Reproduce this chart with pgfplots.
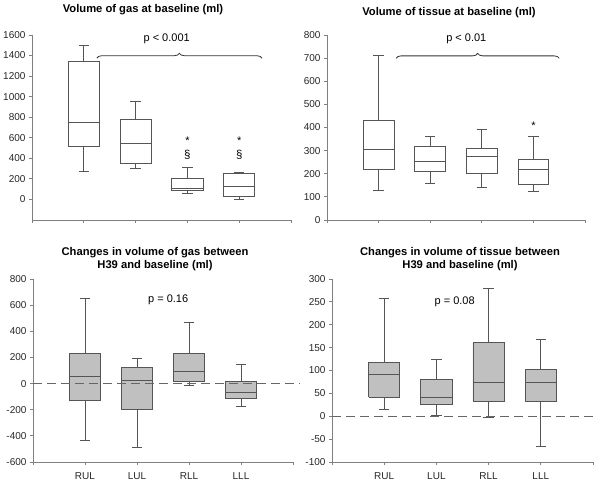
\documentclass[border=0pt]{standalone}
\usepackage{pgfplots}
\pgfplotsset{compat=1.18}
\usetikzlibrary{decorations.pathreplacing}
\usepackage{fontspec}
\setmainfont{Liberation Sans}
\definecolor{axgray}{HTML}{808080}
\definecolor{boxline}{HTML}{555555}
\definecolor{boxfill}{HTML}{C0C0C0}
\tikzset{ptext/.style={font=\fontsize{11}{13}\selectfont}}
\pgfplotsset{
  myax/.style={
    scale only axis, anchor=south west,
    axis x line=bottom, axis y line=left,
    axis line style={draw=axgray, line width=0.8pt, -},
    xmin=0, xmax=5, xtick={0,1,2,3,4,5},
    tick style={draw=axgray, line width=0.8pt},
    major tick length=3pt, tick align=outside,
    ticklabel style={font=\fontsize{10}{12}\selectfont, text=black!85},
    /pgf/number format/assume math mode=true,
    /pgf/number format/1000 sep={},
    clip=false, unbounded coords=jump,
  },
  wh/.style={draw=boxline, line width=0.8pt, no marks},
  topbox/.style={draw=boxline, fill=white, line width=0.8pt, no marks, line join=miter},
  botbox/.style={draw=boxline, fill=boxfill, line width=0.8pt, no marks, line join=miter},
  med/.style={draw=boxline, line width=0.8pt, no marks},
}
\begin{document}
\begin{tikzpicture}
\useasboundingbox (0pt,0pt) rectangle (600pt,485pt);
\node[font=\bfseries\fontsize{11.2}{12.5}\selectfont] at (143pt,475pt) {Volume of gas at baseline (ml)};
\node[font=\bfseries\fontsize{11.2}{12.5}\selectfont] at (449pt,472pt) {Volume of tissue at baseline (ml)};
\node[font=\bfseries\fontsize{11.2}{12.5}\selectfont, align=center] at (155pt,226pt) {Changes in volume of gas between\\H39 and baseline (ml)};
\node[font=\bfseries\fontsize{11.2}{12.5}\selectfont, align=center] at (460pt,226pt) {Changes in volume of tissue between\\H39 and baseline (ml)};

% Panel 1
\begin{axis}[myax, at={(32pt,265pt)}, width=259pt, height=185pt,
  ymin=-200, ymax=1600, ytick={0,200,...,1600}, xticklabels={}]
\addplot[wh] coordinates {(0.9,1500)(1.1,1500)(1,nan)(1,1500)(1,270)(1,nan)(0.9,270)(1.1,270)(1,nan)
 (1.9,950)(2.1,950)(2,nan)(2,950)(2,300)(2,nan)(1.9,300)(2.1,300)(2,nan)
 (2.9,315)(3.1,315)(3,nan)(3,315)(3,55)(3,nan)(2.9,55)(3.1,55)(3,nan)
 (3.9,265)(4.1,265)(4,nan)(4,265)(4,0)(4,nan)(3.9,0)(4.1,0)};
\addplot[topbox] coordinates {(0.7,520)(1.3,520)(1.3,1340)(0.7,1340)(0.7,520)(1,nan)
 (1.7,355)(2.3,355)(2.3,775)(1.7,775)(1.7,355)(2,nan)
 (2.7,85)(3.3,85)(3.3,200)(2.7,200)(2.7,85)(3,nan)
 (3.7,25)(4.3,25)(4.3,250)(3.7,250)(3.7,25)};
\addplot[med] coordinates {(0.7,745)(1.3,745)(1,nan)(1.7,550)(2.3,550)(2,nan)(2.7,110)(3.3,110)(3,nan)(3.7,125)(4.3,125)};
\coordinate (bA1) at (axis cs:1.25,1374);
\coordinate (bA2) at (axis cs:4.44,1374);
\node[ptext] at (axis cs:2.6,1565) {p < 0.001};
\node[font=\fontsize{11}{12}\selectfont, anchor=base] at (axis cs:3,530) {*};
\node[font=\fontsize{11}{12}\selectfont, anchor=base] at (axis cs:4,530) {*};
\node[font=\fontsize{11.5}{12}\selectfont] at (axis cs:3,430) {§};
\node[font=\fontsize{11.5}{12}\selectfont] at (axis cs:4,430) {§};
\end{axis}
\draw[black!80, line width=0.8pt, decorate, decoration={brace, amplitude=5pt}] (bA1) -- (bA2);

% Panel 2
\begin{axis}[myax, at={(327pt,265pt)}, width=258pt, height=185pt,
  ymin=0, ymax=800, ytick={0,100,...,800}, xticklabels={}]
\addplot[wh] coordinates {(0.9,710)(1.1,710)(1,nan)(1,710)(1,130)(1,nan)(0.9,130)(1.1,130)(1,nan)
 (1.9,360)(2.1,360)(2,nan)(2,360)(2,157)(2,nan)(1.9,157)(2.1,157)(2,nan)
 (2.9,390)(3.1,390)(3,nan)(3,390)(3,143)(3,nan)(2.9,143)(3.1,143)(3,nan)
 (3.9,360)(4.1,360)(4,nan)(4,360)(4,125)(4,nan)(3.9,125)(4.1,125)};
\addplot[topbox] coordinates {(0.7,217)(1.3,217)(1.3,432)(0.7,432)(0.7,217)(1,nan)
 (1.7,208)(2.3,208)(2.3,320)(1.7,320)(1.7,208)(2,nan)
 (2.7,200)(3.3,200)(3.3,308)(2.7,308)(2.7,200)(3,nan)
 (3.7,155)(4.3,155)(4.3,260)(3.7,260)(3.7,155)};
\addplot[med] coordinates {(0.7,305)(1.3,305)(1,nan)(1.7,255)(2.3,255)(2,nan)(2.7,273)(3.3,273)(3,nan)(3.7,217)(4.3,217)};
\coordinate (bB1) at (axis cs:1.34,699);
\coordinate (bB2) at (axis cs:4.5,699);
\node[ptext] at (axis cs:2.7,782) {p < 0.01};
\node[font=\fontsize{11}{12}\selectfont, anchor=base] at (axis cs:4,390) {*};
\end{axis}
\draw[black!80, line width=0.8pt, decorate, decoration={brace, amplitude=5pt}] (bB1) -- (bB2);

% Panel 3
\begin{axis}[myax, at={(33pt,23pt)}, width=260pt, height=183pt,
  ymin=-600, ymax=800, ytick={-600,-400,...,800},
  xticklabels={,RUL,LUL,RLL,LLL,}, xticklabel style={yshift=-4pt}]
\addplot[wh] coordinates {(0.9,655)(1.1,655)(1,nan)(1,655)(1,-435)(1,nan)(0.9,-435)(1.1,-435)(1,nan)
 (1.9,195)(2.1,195)(2,nan)(2,195)(2,-490)(2,nan)(1.9,-490)(2.1,-490)(2,nan)
 (2.9,465)(3.1,465)(3,nan)(3,465)(3,-15)(3,nan)(2.9,-15)(3.1,-15)(3,nan)
 (3.9,145)(4.1,145)(4,nan)(4,145)(4,-175)(4,nan)(3.9,-175)(4.1,-175)};
\addplot[botbox] coordinates {(0.7,-130)(1.3,-130)(1.3,230)(0.7,230)(0.7,-130)(1,nan)
 (1.7,-200)(2.3,-200)(2.3,125)(1.7,125)(1.7,-200)(2,nan)
 (2.7,20)(3.3,20)(3.3,230)(2.7,230)(2.7,20)(3,nan)
 (3.7,-115)(4.3,-115)(4.3,15)(3.7,15)(3.7,-115)};
\addplot[med] coordinates {(0.7,55)(1.3,55)(1,nan)(1.7,25)(2.3,25)(2,nan)(2.7,90)(3.3,90)(3,nan)(3.7,-70)(4.3,-70)};
\draw[black!60, line width=0.9pt, dash pattern=on 9pt off 5pt] (axis cs:0,0) -- (axis cs:5.13,0);
\node[ptext] at (axis cs:2.6,640) {p = 0.16};
\end{axis}

% Panel 4
\begin{axis}[myax, at={(332pt,23pt)}, width=261pt, height=183pt,
  ymin=-100, ymax=300, ytick={-100,-50,...,300},
  xticklabels={,RUL,LUL,RLL,LLL,}, xticklabel style={yshift=-4pt}]
\addplot[wh] coordinates {(0.9,258)(1.1,258)(1,nan)(1,258)(1,14)(1,nan)(0.9,14)(1.1,14)(1,nan)
 (1.9,124)(2.1,124)(2,nan)(2,124)(2,2)(2,nan)(1.9,2)(2.1,2)(2,nan)
 (2.9,280)(3.1,280)(3,nan)(3,280)(3,-2)(3,nan)(2.9,-2)(3.1,-2)(3,nan)
 (3.9,167)(4.1,167)(4,nan)(4,167)(4,-65)(4,nan)(3.9,-65)(4.1,-65)};
\addplot[botbox] coordinates {(0.7,41)(1.3,41)(1.3,117)(0.7,117)(0.7,41)(1,nan)
 (1.7,25)(2.3,25)(2.3,81)(1.7,81)(1.7,25)(2,nan)
 (2.7,32)(3.3,32)(3.3,162)(2.7,162)(2.7,32)(3,nan)
 (3.7,32)(4.3,32)(4.3,102)(3.7,102)(3.7,32)};
\addplot[med] coordinates {(0.7,91)(1.3,91)(1,nan)(1.7,41)(2.3,41)(2,nan)(2.7,73)(3.3,73)(3,nan)(3.7,74)(4.3,74)};
\draw[black!60, line width=0.9pt, dash pattern=on 9pt off 5pt] (axis cs:0,0) -- (axis cs:5.05,0);
\node[ptext] at (axis cs:2.35,250) {p = 0.08};
\end{axis}
\end{tikzpicture}
\end{document}
